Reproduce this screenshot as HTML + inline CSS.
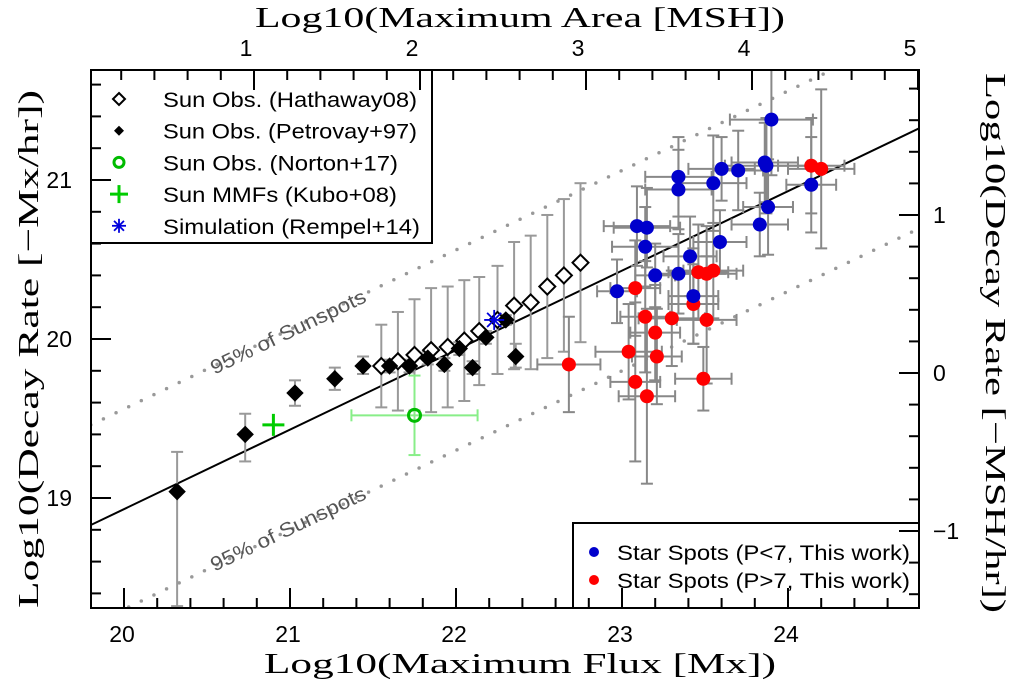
<!DOCTYPE html>
<html><head><meta charset="utf-8"><style>
html,body{margin:0;padding:0;background:#fff;}
svg{display:block;}
</style></head><body>
<svg id="chart" width="1020" height="682" xmlns="http://www.w3.org/2000/svg"></svg>
<script>
// ---- data ----
const petroX=[20.32,20.73,21.03,21.27,21.44,21.60,21.72,21.83,21.93,22.02,22.10,22.18,22.30,22.36];
const petroY=[19.04,19.40,19.66,19.75,19.83,19.83,19.83,19.88,19.84,19.94,19.82,20.01,20.12,19.89];
const petroHi=[19.29,19.53,19.74,19.82,19.89,19.87,19.87,19.92,19.88,19.98,19.86,20.05,20.15,19.97];
const petroLo=[18.32,19.23,19.58,19.68,19.78,19.79,19.79,19.84,19.80,19.90,19.78,19.97,20.09,19.82];
const hathX=[21.55,21.65,21.75,21.85,21.95,22.05,22.14,22.25,22.35,22.45,22.55,22.65,22.75];
const hathY=[19.83,19.86,19.90,19.93,19.95,19.99,20.05,20.12,20.21,20.23,20.33,20.40,20.48];
const hathErr=[0.26,0.31,0.35,0.39,0.38,0.38,0.34,0.34,0.40,0.42,0.45,0.48,0.50];
const nortonX=[21.75], nortonY=[19.52], nortonXErr=[0.38], nortonYErr=[0.25];
const kuboX=[20.90], kuboY=[19.46];
const rempelX=[22.23], rempelY=[20.12];
const blueX=[23.90,23.60,23.70,23.86,23.87,23.34,23.34,23.55,24.14,23.88,23.83,23.09,23.15,23.14,23.59,23.41,23.20,23.34,22.97,23.43];
const blueY=[21.38,21.07,21.06,21.11,21.09,21.02,20.94,20.98,20.97,20.83,20.72,20.71,20.70,20.58,20.61,20.52,20.40,20.41,20.30,20.27];
const blueXErr=[0.25,0.2,0.15,0.2,0.25,0.2,0.2,0.2,0.15,0.15,0.17,0.2,0.2,0.2,0.16,0.16,0.12,0.15,0.12,0.15];
const blueYErr=[0.35,0.2,0.25,0.25,0.3,0.25,0.25,0.3,0.3,0.3,0.2,0.25,0.25,0.25,0.2,0.25,0.2,0.25,0.2,0.3];
const redX=[24.14,24.20,23.46,23.51,23.55,23.08,23.43,23.14,23.30,23.51,23.20,23.04,23.21,22.68,23.49,23.08,23.15];
const redY=[21.09,21.07,20.42,20.41,20.43,20.32,20.22,20.14,20.13,20.12,20.04,19.92,19.89,19.84,19.75,19.73,19.64];
const redXErr=[0.2,0.2,0.18,0.18,0.18,0.15,0.15,0.15,0.2,0.18,0.15,0.2,0.15,0.19,0.17,0.15,0.17];
const redYErr=[0.3,0.5,0.3,0.3,0.3,0.3,0.25,0.35,0.3,0.4,0.3,0.3,0.3,0.3,0.2,0.5,0.55];
const fitIntercept=18.83, fitSlope=0.5, band=0.63;
const xTicks=[20,21,22,23,24], yTicks=[19,20,21], topTicks=[1,2,3,4,5], rightTicks=[-1,0,1];

// ---- axes ----
const L=91,R=919,T=70,B=608;
const X=v=>124+166*(v-20);
const Y=v=>339-159*(v-20);
const XT=a=>254+166*(a-1);
const YR=r=>373-158*r;
const NS="http://www.w3.org/2000/svg";
const svg=document.getElementById('chart');
function mk(tag,attrs,parent){const e=document.createElementNS(NS,tag);for(const k in attrs)e.setAttribute(k,attrs[k]);(parent||svg).appendChild(e);return e;}
const clip=mk('clipPath',{id:'pc'});mk('rect',{x:L,y:T,width:R-L,height:B-T},clip);
const plot=mk('g',{'clip-path':'url(#pc)'});



// fit line & bands
const x0=19.8,x1=24.8;
const fit=mk('line',{x1:X(x0),y1:Y(fitIntercept),x2:X(x1),y2:Y(fitIntercept+fitSlope*(x1-x0)),stroke:'#000','stroke-width':2},plot);


[band,-band].forEach((o,i)=>{
  const l=mk('line',{x1:X(x0),y1:Y(fitIntercept+o),x2:X(x1),y2:Y(fitIntercept+o+fitSlope*(x1-x0)),stroke:'#999','stroke-width':3.5,'stroke-dasharray':'0 14','stroke-linecap':'round'},plot);
  
  
});
const ang=-Math.atan(fitSlope*159/166)*180/Math.PI;
[[291,338],[291,535]].forEach((p,i)=>{
  const t=mk('text',{x:p[0],y:p[1],'font-family':'Liberation Sans, sans-serif','font-size':20,fill:'#555','text-anchor':'middle',textLength:170,lengthAdjust:'spacingAndGlyphs',transform:`rotate(${ang} ${p[0]} ${p[1]})`});
  t.textContent='95% of Sunspots';
  
  
});

function vbar(x,y1,y2,col,w){mk('line',{x1:x,y1:y1,x2:x,y2:y2,stroke:col,'stroke-width':w||2},plot);mk('line',{x1:x-6,y1:y1,x2:x+6,y2:y1,stroke:col,'stroke-width':2},plot);mk('line',{x1:x-6,y1:y2,x2:x+6,y2:y2,stroke:col,'stroke-width':2},plot);}
function hbar(y,x1,x2,col){mk('line',{x1:x1,y1:y,x2:x2,y2:y,stroke:col,'stroke-width':2},plot);mk('line',{x1:x1,y1:y-6,x2:x1,y2:y+6,stroke:col,'stroke-width':2},plot);mk('line',{x1:x2,y1:y-6,x2:x2,y2:y+6,stroke:col,'stroke-width':2},plot);}

// error bars
hathX.forEach((v,i)=>vbar(X(v),Y(hathY[i]+hathErr[i]),Y(hathY[i]-hathErr[i]),'#999'));
petroX.forEach((v,i)=>vbar(X(v),Y(petroHi[i]),Y(petroLo[i]),'#999'));
blueX.forEach((v,i)=>{vbar(X(v),Y(blueY[i]+blueYErr[i]),Y(blueY[i]-blueYErr[i]),'#888');hbar(Y(blueY[i]),X(v-blueXErr[i]),X(v+blueXErr[i]),'#888');});
redX.forEach((v,i)=>{vbar(X(v),Y(redY[i]+redYErr[i]),Y(redY[i]-redYErr[i]),'#888');hbar(Y(redY[i]),X(v-redXErr[i]),X(v+redXErr[i]),'#888');});
vbar(X(nortonX[0]),Y(nortonY[0]+nortonYErr[0]),Y(nortonY[0]-nortonYErr[0]),'#8e8');
hbar(Y(nortonY[0]),X(nortonX[0]-nortonXErr[0]),X(nortonX[0]+nortonXErr[0]),'#8e8');

// markers
function diamond(x,y,fill,name){const d=mk('path',{d:`M${x} ${y-8}L${x+8} ${y}L${x} ${y+8}L${x-8} ${y}Z`,fill:fill,stroke:'#000','stroke-width':fill==='#000'?1:2},plot);}
hathX.forEach((v,i)=>diamond(X(v),Y(hathY[i]),'#fff','hathaway-point'));
petroX.forEach((v,i)=>diamond(X(v),Y(petroY[i]),'#000','petrovay-point'));
redX.forEach((v,i)=>{const c=mk('circle',{cx:X(v),cy:Y(redY[i]),r:7,fill:'#f00'},plot);});
blueX.forEach((v,i)=>{const c=mk('circle',{cx:X(v),cy:Y(blueY[i]),r:7,fill:'#00c'},plot);});
const nc=mk('circle',{cx:X(nortonX[0]),cy:Y(nortonY[0]),r:6,fill:'none',stroke:'#0b0','stroke-width':3},plot);


function plus(x,y,g,s){mk('line',{x1:x-s,y1:y,x2:x+s,y2:y,stroke:'#0c0','stroke-width':3},g);mk('line',{x1:x,y1:y-s,x2:x,y2:y+s,stroke:'#0c0','stroke-width':3},g);}
const kg=mk('g',{},plot);
plus(X(kuboX[0]),Y(kuboY[0]),kg,11);
function star(x,y,g,s){for(let k=0;k<4;k++){const a=k*Math.PI/4;mk('line',{x1:x-s*Math.cos(a),y1:y-s*Math.sin(a),x2:x+s*Math.cos(a),y2:y+s*Math.sin(a),stroke:'#00d','stroke-width':1.8},g);}}
const rg=mk('g',{},plot);
star(X(rempelX[0]),Y(rempelY[0]),rg,10);

// legends
const lg1=mk('g',{});
mk('rect',{x:L,y:T,width:341,height:173,fill:'#fff',stroke:'#000','stroke-width':2},lg1);
const labs=['Sun Obs. (Hathaway08)','Sun Obs. (Petrovay+97)','Sun Obs. (Norton+17)','Sun MMFs (Kubo+08)','Simulation (Rempel+14)'];
const labW=[254,254,235,234,257];
labs.forEach((s,i)=>{const y=99+i*31.7;const t=mk('text',{x:163,y:y+8,'font-family':'Liberation Sans, sans-serif','font-size':21,fill:'#000',textLength:labW[i],lengthAdjust:'spacingAndGlyphs'},lg1);t.textContent=s;
 const x=119;
 if(i===0)mk('path',{d:`M${x} ${y-6}L${x+6} ${y}L${x} ${y+6}L${x-6} ${y}Z`,fill:'#fff',stroke:'#000','stroke-width':2},lg1);
 if(i===1)mk('path',{d:`M${x} ${y-5}L${x+5} ${y}L${x} ${y+5}L${x-5} ${y}Z`,fill:'#000'},lg1);
 if(i===2)mk('circle',{cx:x,cy:y,r:5,fill:'none',stroke:'#0b0','stroke-width':3},lg1);
 if(i===3)plus(x,y,lg1,9);
 if(i===4)star(x,y,lg1,7);
});
const lg2=mk('g',{});
mk('rect',{x:573,y:523,width:346,height:85,fill:'#fff',stroke:'#000','stroke-width':2},lg2);
[['Star Spots (P<7, This work)','#00c',552],['Star Spots (P>7, This work)','#f00',580]].forEach((a,i)=>{
 mk('circle',{cx:594,cy:a[2],r:5,fill:a[1]},lg2);
 const t=mk('text',{x:617,y:a[2]+8,'font-family':'Liberation Sans, sans-serif','font-size':21,fill:'#000',textLength:293,lengthAdjust:'spacingAndGlyphs'},lg2);t.textContent=a[0];
});

// frame & ticks
const ax=mk('g',{stroke:'#000','stroke-width':2});
mk('rect',{x:L,y:T,width:R-L,height:B-T,fill:'none'},ax);
for(let k=0;k<=25;k++){const v=19.8+k*0.2;const x=X(v);if(x<L+1||x>R-1)continue;const maj=Math.abs(v-Math.round(v))<1e-6;mk('line',{x1:x,y1:B,x2:x,y2:B-(maj?20:10)},ax);}
for(let k=0;k<=20;k++){const v=18.4+k*0.2;const y=Y(v);if(y<T+1||y>B-1)continue;const maj=Math.abs(v-Math.round(v))<1e-6;mk('line',{x1:L,y1:y,x2:L+(maj?20:10),y2:y},ax);}
for(let k=0;k<=25;k++){const a=0.2*k;const x=XT(a);if(x<L+1||x>R-1)continue;const maj=Math.abs(a-Math.round(a))<1e-6;mk('line',{x1:x,y1:T,x2:x,y2:T+(maj?20:10)},ax);}
for(let k=0;k<=20;k++){const r=-1.4+0.2*k;const y=YR(r);if(y<T+1||y>B-1)continue;const maj=Math.abs(r-Math.round(r))<1e-6;mk('line',{x1:R,y1:y,x2:R-(maj?20:10),y2:y},ax);}

function txt(s,x,y,size,anchor,fam,name,rot,len){const t=mk('text',{x:x,y:y,'font-size':size,'text-anchor':anchor,'font-family':fam,fill:'#000'});if(len){t.setAttribute('textLength',len);t.setAttribute('lengthAdjust','spacingAndGlyphs');}if(rot)t.setAttribute('transform',`rotate(${rot} ${x} ${y})`);t.textContent=s;return t;}
const SANS='Liberation Sans, sans-serif', SERIF='Liberation Serif, serif';
xTicks.forEach(v=>txt(String(v),X(v)-2,642,23,'middle',SANS,'x-tick-label'));
yTicks.forEach(v=>txt(String(v),72,Y(v)+8,23,'end',SANS,'y-tick-label'));
topTicks.forEach(v=>txt(String(v),XT(v)-8,56,23,'middle',SANS,'top-tick-label'));
rightTicks.forEach(v=>txt(v<0?'\u2212'+Math.abs(v):String(v),933,YR(v)+8,23,'start',SANS,'right-tick-label'));
txt('Log10(Maximum Flux [Mx])',520,673,29,'middle',SERIF,'x-axis-title',0,512);
txt('Log10(Maximum Area [MSH])',520,27,29,'middle',SERIF,'top-axis-title',0,530);
txt('Log10(Decay Rate [\u2212Mx/hr])',38,349,29,'middle',SERIF,'y-axis-title',-90,518);
txt('Log10(Decay Rate [\u2212MSH/hr])',986,343,29,'middle',SERIF,'right-axis-title',90,540);
</script>
</body></html>
